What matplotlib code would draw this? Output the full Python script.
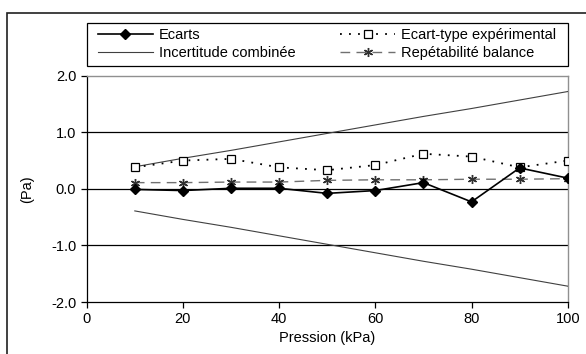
import matplotlib
matplotlib.use("Agg")
import matplotlib.pyplot as plt
from matplotlib.patches import Rectangle
from matplotlib.ticker import FormatStrFormatter

plt.rcParams['font.family'] = ['Liberation Sans', 'DejaVu Sans']
plt.rcParams['axes.unicode_minus'] = False

pression = [10, 20, 30, 40, 50, 60, 70, 80, 90, 100]
ecarts = [-0.01, -0.03, 0.01, 0.01, -0.08, -0.03, 0.11, -0.23, 0.37, 0.19]
ecart_type = [0.38, 0.50, 0.53, 0.38, 0.33, 0.42, 0.62, 0.57, 0.38, 0.50]
repetabilite = [0.11, 0.11, 0.12, 0.12, 0.15, 0.16, 0.16, 0.17, 0.17, 0.18]
incertitude = [0.39, 0.54, 0.68, 0.83, 0.98, 1.13, 1.28, 1.42, 1.57, 1.72]
incertitude_neg = [-v for v in incertitude]

x_ticks = [0, 20, 40, 60, 80, 100]
y_ticks = [-2.0, -1.0, 0.0, 1.0, 2.0]

FS = 10.5
W, H = 586, 354
fig = plt.figure(figsize=(W / 100, H / 100), dpi=100)
ax = fig.add_axes([86.7 / W, 1 - 302 / H, (567.7 - 86.7) / W, (302 - 75.7) / H])

# outer chart frame
fig.patches.append(Rectangle((7.3 / W, -0.05), 1.2, 1 - 13.3 / H + 0.05,
                             transform=fig.transFigure, fill=False,
                             edgecolor='#202020', linewidth=1.2))
# legend frame
fig.patches.append(Rectangle((86.5 / W, 1 - 65.7 / H), (568 - 86.5) / W, (65.7 - 23.3) / H,
                             transform=fig.transFigure, fill=True, facecolor='white',
                             edgecolor='black', linewidth=0.9, zorder=2))

for yv in [-1.0, 0.0, 1.0]:
    ax.axhline(yv, color='black', linewidth=0.9, zorder=1)

l1, = ax.plot(pression, ecarts, color='black', linewidth=1.2, marker='D',
              markersize=5.5, markerfacecolor='black', zorder=5, label='Ecarts')
l2, = ax.plot(pression, incertitude, color='#404040', linewidth=0.8, zorder=3,
              label='Incertitude combinée')
ax.plot(pression, incertitude_neg, color='#404040', linewidth=0.8, zorder=3)
l3, = ax.plot(pression, ecart_type, color='black', linewidth=1.3, linestyle=(0, (1, 4)),
              marker='s', markersize=6, markerfacecolor='white',
              markeredgecolor='black', markeredgewidth=0.9, zorder=4,
              label='Ecart-type expérimental')
l4, = ax.plot(pression, repetabilite, color='#707070', linewidth=1.0, linestyle=(0, (7, 4.5)),
              marker=(6, 2, 0), markersize=6.5, markeredgecolor='#303030',
              markeredgewidth=1.0, zorder=4, label='Repétabilité balance')

ax.set_xlim(0, 100)
ax.set_ylim(-2.0, 2.0)
ax.set_xticks(x_ticks)
ax.set_yticks(y_ticks)
ax.yaxis.set_major_formatter(FormatStrFormatter('%.1f'))
ax.tick_params(direction='out', length=4, width=0.9, labelsize=FS, colors='black')

for s in ['left', 'bottom']:
    ax.spines[s].set_color('black')
    ax.spines[s].set_linewidth(0.9)
for s in ['top', 'right']:
    ax.spines[s].set_color('#909090')
    ax.spines[s].set_linewidth(1.0)

ax.set_xlabel('Pression (kPa)', fontsize=FS, labelpad=3)
ax.set_ylabel('(Pa)', fontsize=FS, labelpad=12)

leg = fig.legend(handles=[l1, l2, l3, l4], ncol=2, loc='center left',
                 bbox_to_anchor=(98 / W, 1 - 44.3 / H),
                 fontsize=FS, frameon=False, borderpad=0, handlelength=3.77,
                 handletextpad=0.41, labelspacing=0.3, columnspacing=3.05, borderaxespad=0)
leg.set_zorder(3)

fig.savefig('out.png', dpi=100)
